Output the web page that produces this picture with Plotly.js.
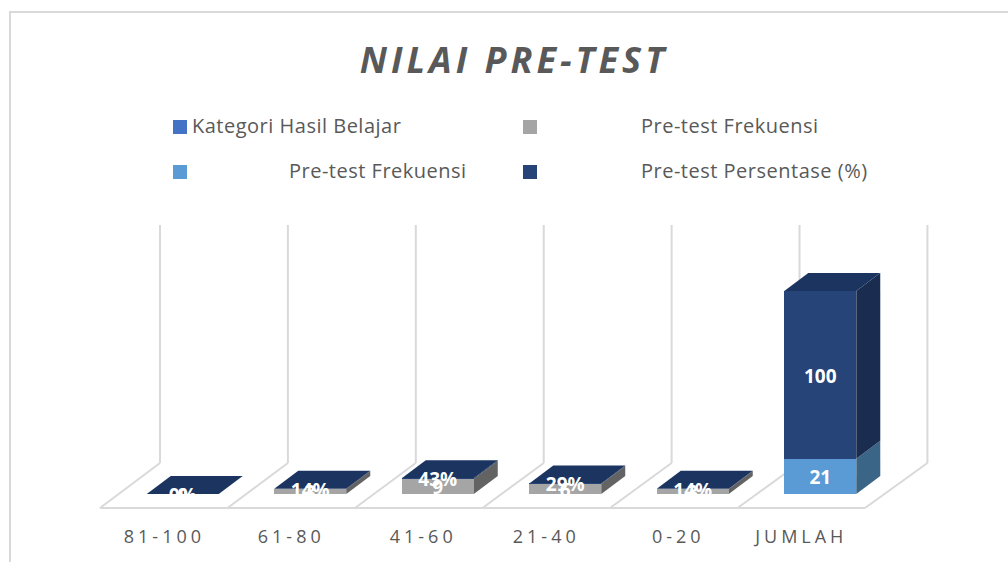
<!DOCTYPE html>
<html>
<head>
<meta charset="utf-8">
<script src="https://cdn.plot.ly/plotly-3.0.1.min.js"></script>
<style>
html,body{margin:0;padding:0;background:#fff;overflow:hidden}
#chart{width:1008px;height:562px}
.xtick text{letter-spacing:4px}
.gtitle{letter-spacing:4px}
.annotation-text{letter-spacing:.5px}
</style>
</head>
<body>
<div id="chart"></div>
<script>
// ---- data ----
const categories = ["81-100","61-80","41-60","21-40","0-20","JUMLAH"];
const kategori   = [0,0,0,0,0,0];
const frekuensiA = [0,3,9,6,3,null];
const frekuensiB = [null,null,null,null,null,21];
const persentase = [0,0.14,0.43,0.29,0.14,100];
const persenText = ["0%","14%","43%","29%","14%","100"];
const frekAText  = ["0","3","9","6","3",""];
const frekBText  = ["","","","","","21"];
const legendNames = ["Kategori Hasil Belajar","Pre-test Frekuensi","Pre-test Frekuensi","Pre-test Persentase (%)"];

// ---- styles ----
const C = {kat:"#4472C4",gray:"#A5A5A5",light:"#5B9BD5",dark:"#264478",
  graySide:"#636363",lightSide:"#3A6587",darkSide:"#1A2C4F",darkTop:"#1C3560",
  line:"#D9D9D9",text:"#595959"};

// ---- geometry in axis units ----
const W=1008,H=562, L=98,R=79,T=223,B=52;
const pxX=127.5, pxY=1.678;
const xr=[-0.5-2/pxX, 5.986+2/pxX], yr=[-16/pxY, 271/pxY];
const barW=72/pxX, barOff=19/pxX-barW/2, barC=19/pxX;
const depX=24/pxX, depY=18/pxY;
const floorDX=60/pxX, floorStep=0.4/pxX, floorBack=31/pxY, floorFront=-14/pxY, wallTop=269/pxY;
const labelDrop=3/pxY;
const tickNudge=[0.005,0,0.035,0,0.035,0];

const poly=(pts,fill)=>({type:"path",xref:"x",yref:"y",layer:"below",
  path:"M"+pts.map(p=>p[0]+","+p[1]).join("L")+"Z",fillcolor:fill,line:{width:0}});
const seg=(a,b)=>({type:"line",xref:"x",yref:"y",layer:"below",x0:a[0],y0:a[1],x1:b[0],y1:b[1],line:{color:C.line,width:2}});
const shapes=[];

// wall dividers and floor
for(let i=0;i<=categories.length;i++){
  const f=i-0.5,b=f+floorDX+i*floorStep;
  shapes.push(seg([b,floorBack],[b,wallTop]));
  shapes.push(seg([f,floorFront],[b,floorBack]));
}
shapes.push(seg([-0.5,floorFront],[categories.length-0.5,floorFront]));

// side and top faces of the stacks, derived from the series
categories.forEach((c,i)=>{
  const r=i+barOff+barW, l=i+barOff;
  let base=0;
  [[frekuensiA,C.graySide],[frekuensiB,C.lightSide],[persentase,C.darkSide]].forEach(([s,col])=>{
    const v=s[i]||0;
    if(v>0) shapes.push(poly([[r,base],[r+depX,base+depY],[r+depX,base+v+depY],[r,base+v]],col));
    base+=v;
  });
  shapes.push(poly([[l,base],[r,base],[r+depX,base+depY],[l+depX,base+depY]],C.darkTop));
});

// chart frame
const toPX=x=>(x-L)/(W-L-R), toPY=y=>(H-B-y)/(H-T-B);
shapes.push({type:"path",xref:"paper",yref:"paper",layer:"below",
  path:`M${toPX(10)},${toPY(562)}L${toPX(10)},${toPY(12)}L${toPX(1008)},${toPY(12)}`,
  line:{color:C.line,width:2}});

// legend drawn to sit exactly as in the reference
const legendRows=[
  {sx:173,cy:127,col:C.kat,tx:190,name:legendNames[0]},
  {sx:523,cy:127,col:C.gray,tx:639,name:legendNames[1]},
  {sx:173,cy:172,col:C.light,tx:287,name:legendNames[2]},
  {sx:523,cy:172,col:C.dark,tx:639,name:legendNames[3]}
];
const annotations=[];
legendRows.forEach(e=>{
  shapes.push({type:"rect",xref:"paper",yref:"paper",x0:toPX(e.sx),x1:toPX(e.sx+14),y0:toPY(e.cy-7),y1:toPY(e.cy+7),fillcolor:e.col,line:{width:0}});
  annotations.push({xref:"paper",yref:"paper",x:toPX(e.tx),y:toPY(e.cy-1),xanchor:"left",yanchor:"middle",showarrow:false,
    text:e.name,font:{family:"Open Sans",size:20,color:C.text}});
});

// ---- traces ----
const xs=categories.map((c,i)=>i);
const bar=(name,y,col)=>({type:"bar",name,x:xs,y,width:barW,offset:barOff,marker:{color:col,line:{width:0}},hoverinfo:"skip"});
const mids=(s,below)=>s.map((v,i)=>{const b=below.reduce((a,t)=>a+(t[i]||0),0);return b+(v||0)/2-labelDrop;});
const labels=(s,below,text)=>({type:"scatter",mode:"text",x:xs.map(v=>v+barC),y:mids(s,below),text,
  textposition:"middle center",textfont:{family:"Open Sans",size:19,color:"#FFFFFF",weight:700},cliponaxis:false,hoverinfo:"skip"});
const data=[
  bar(legendNames[0],kategori,C.kat),
  bar(legendNames[1],frekuensiA,C.gray),
  bar(legendNames[2],frekuensiB,C.light),
  bar(legendNames[3],persentase,C.dark),
  labels(frekuensiA,[],frekAText),
  labels(frekuensiB,[frekuensiA],frekBText),
  labels(persentase,[frekuensiA,frekuensiB],persenText)
];

const layout={
  width:W,height:H,showlegend:false,barmode:"stack",
  paper_bgcolor:"#fff",plot_bgcolor:"rgba(0,0,0,0)",
  margin:{l:L,r:R,t:T,b:B,pad:0},
  title:{text:"<b><i>NILAI PRE-TEST</i></b>",x:514/W,xanchor:"center",xref:"container",y:1-60/H,yanchor:"middle",yref:"container",
    font:{family:"Open Sans",size:36,color:C.text}},
  xaxis:{range:xr,tickmode:"array",tickvals:xs.map((v,i)=>v+tickNudge[i]),ticktext:categories,showgrid:false,zeroline:false,showline:false,ticks:"",
    ticklabelstandoff:14,tickfont:{family:"Open Sans",size:18,color:C.text},automargin:false,fixedrange:true},
  yaxis:{range:yr,showgrid:false,zeroline:false,showline:false,showticklabels:false,ticks:"",automargin:false,fixedrange:true},
  shapes,annotations
};
Plotly.newPlot("chart",data,layout,{displayModeBar:false,staticPlot:true});
</script>
</body>
</html>
